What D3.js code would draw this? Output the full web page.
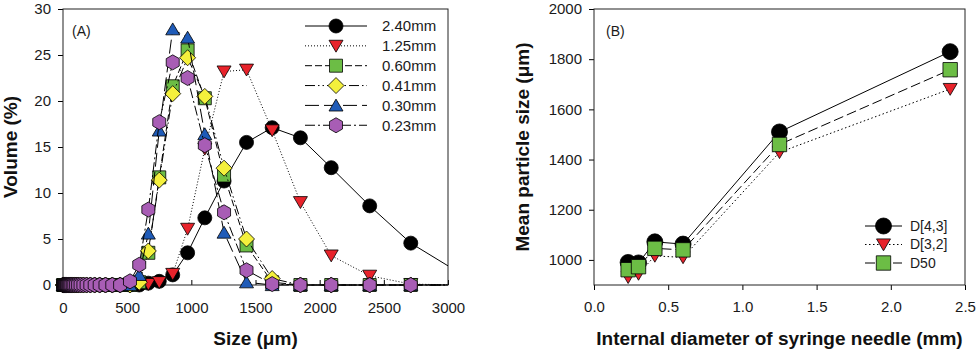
<!DOCTYPE html>
<html>
<head>
<meta charset="utf-8">
<script src="https://cdn.jsdelivr.net/npm/d3@7"></script>
<style>
  body { margin: 0; background: #fff; }
  svg, svg text { font-family: "Liberation Sans", Arial, sans-serif; }
  .tick text { fill: #1a1a1a; }
</style>
</head>
<body>
<div id="chart"></div>
<script>
// ---- data, panel A: particle size distribution ----
const sizes = [2, 4, 6, 8, 10, 12, 15, 18, 21, 25, 30, 35, 41, 48, 56, 65, 76, 88, 102, 118,
  137, 159, 184, 213, 247, 286, 331, 384, 445,
  522, 594, 665, 750, 855, 971, 1105, 1255, 1430, 1630, 1850, 2090, 2390, 2710, 3080];

const vol240 = [0,0,0,0,0,0,0,0,0,0, 0,0,0,0,0,0,0,0,0,0, 0,0,0,0,0,0,0,0,0,
  0, 0, 0.2, 0.4, 1.1, 3.5, 7.3, 11.3, 15.5, 17.1, 16.0, 12.75, 8.6, 4.55, 1.4];
const vol125 = [0,0,0,0,0,0,0,0,0,0, 0,0,0,0,0,0,0,0,0,0, 0,0,0,0,0,0,0,0,0,
  0, 0, 0.1, 0.3, 1.2, 6.1, 14.8, 23.2, 23.4, 16.8, 9.0, 3.2, 1.0, 0.1, 0];
const vol060 = [0,0,0,0,0,0,0,0,0,0, 0,0,0,0,0,0,0,0,0,0, 0,0,0,0,0,0,0,0,0,
  0, 0.3, 3.5, 11.7, 21.6, 25.5, 20.3, 11.9, 4.3, 0.3, 0, 0, 0, 0, 0];
const vol041 = [0,0,0,0,0,0,0,0,0,0, 0,0,0,0,0,0,0,0,0,0, 0,0,0,0,0,0,0,0,0,
  0, 0.3, 3.7, 11.4, 20.8, 24.7, 20.5, 12.7, 5.0, 0.7, 0, 0, 0, 0, 0];
const vol030 = [0,0,0,0,0,0,0,0,0,0, 0,0,0,0,0,0,0,0,0,0, 0,0,0,0,0,0,0,0,0,
  0, 1.1, 5.6, 16.8, 27.8, 26.9, 16.4, 5.7, 0.3, 0, 0, 0, 0, 0, 0];
const vol023 = [0,0,0,0,0,0,0,0,0,0, 0,0,0,0,0,0,0,0,0,0, 0,0,0,0,0,0,0,0,0,
  0.4, 2.2, 8.2, 17.7, 24.2, 22.5, 15.2, 7.9, 1.6, 0.1, 0, 0, 0, 0, 0];

const needleLabels = ["2.40mm", "1.25mm", "0.60mm", "0.41mm", "0.30mm", "0.23mm"];
const sizeTicks = [0, 500, 1000, 1500, 2000, 2500, 3000];
const volTicks = [0, 5, 10, 15, 20, 25, 30];

// ---- data, panel B: mean particle size vs needle diameter ----
const needle = [0.23, 0.30, 0.41, 0.60, 1.25, 2.40];
const d43 = [990, 988, 1072, 1063, 1510, 1830];
const d32 = [931, 944, 1016, 1010, 1429, 1681];
const d50 = [961, 973, 1046, 1040, 1460, 1758];
const meanLabels = ["D[4,3]", "D[3,2]", "D50"];
const diamTicks = [0, 0.5, 1.0, 1.5, 2.0, 2.5];
const meanTicks = [1000, 1200, 1400, 1600, 1800, 2000];

// marker shapes
function markerPath(type, r) {
  if (type === "circle") return `M${r},0A${r},${r} 0 1,1 ${-r},0A${r},${r} 0 1,1 ${r},0Z`;
  if (type === "triDown") return `M${-r},${-r * 0.8}L${r},${-r * 0.8}L0,${r * 0.9}Z`;
  if (type === "triUp") return `M${-r},${r * 0.8}L${r},${r * 0.8}L0,${-r * 0.9}Z`;
  if (type === "square") return `M${-r},${-r}H${r}V${r}H${-r}Z`;
  if (type === "diamond") return `M0,${-r}L${r},0L0,${r}L${-r},0Z`;
  if (type === "hexagon") {
    const pts = d3.range(6).map(k => {
      const a = (k * 60 - 90) * Math.PI / 180;
      return [r * Math.cos(a), r * Math.sin(a)];
    });
    return "M" + pts.map(p => p.join(",")).join("L") + "Z";
  }
}

const seriesA = [
  { label: needleLabels[0], values: vol240, shape: "circle", r: 7, fill: "#000", dash: null },
  { label: needleLabels[1], values: vol125, shape: "triDown", r: 7, fill: "#e8232b", dash: "1,2" },
  { label: needleLabels[2], values: vol060, shape: "square", r: 6.5, fill: "#6cbd45", dash: "7,3" },
  { label: needleLabels[3], values: vol041, shape: "diamond", r: 8, fill: "#f4f03c", dash: "10,3,1.5,3,1.5,3" },
  { label: needleLabels[4], values: vol030, shape: "triUp", r: 7, fill: "#1f5bb8", dash: "14,5" },
  { label: needleLabels[5], values: vol023, shape: "hexagon", r: 7.5, fill: "#a85db5", dash: "10,3,2,3" }
];

const seriesB = [
  { label: meanLabels[0], values: d43, shape: "circle", r: 8, fill: "#000", dash: null },
  { label: meanLabels[1], values: d32, shape: "triDown", r: 7, fill: "#e8232b", dash: "1.5,2.5" },
  { label: meanLabels[2], values: d50, shape: "square", r: 7.2, fill: "#6cbd45", dash: "10,4" }
];

const svg = d3.select("#chart")
  .append("svg")
  .attr("width", 979)
  .attr("height", 353);

function drawPanel(opt) {
  const g = svg.append("g").attr("transform", `translate(${opt.left},${opt.top})`);
  const w = opt.width, h = opt.height;

  const x = d3.scaleLinear().domain(opt.xDomain).range([0, w]);
  const y = d3.scaleLinear().domain(opt.yDomain).range([h, 0]);

  // x axis
  const xAxis = g.append("g")
    .attr("transform", `translate(0,${h})`)
    .call(d3.axisBottom(x).tickValues(opt.xTicks).tickFormat(opt.xFormat)
      .tickSizeInner(opt.xTickInside ? -5 : 5).tickSizeOuter(0).tickPadding(opt.xPad));
  xAxis.select(".domain").remove();
  xAxis.attr("font-family", null);
  xAxis.selectAll("text").style("font-size", "15px");

  // y axis
  const yAxis = g.append("g")
    .call(d3.axisLeft(y).tickValues(opt.yTicks).tickFormat(d3.format("d"))
      .tickSizeInner(5).tickSizeOuter(0).tickPadding(7));
  yAxis.select(".domain").remove();
  yAxis.attr("font-family", null);
  yAxis.selectAll("text").style("font-size", "15px");

  // frame
  g.append("rect")
    .attr("width", w).attr("height", h)
    .attr("fill", "none").attr("stroke", "#222").attr("stroke-width", 1);

  const clipId = "clip-" + opt.id;
  g.append("clipPath").attr("id", clipId)
    .append("rect").attr("x", -20).attr("y", -20).attr("width", w + 20).attr("height", h + 40);

  const plot = g.append("g").attr("clip-path", `url(#${clipId})`);

  const line = d3.line()
    .x((d, i) => x(opt.xValues[i]))
    .y(d => y(d));

  opt.series.forEach(s => {
    plot.append("path")
      .datum(s.values)
      .attr("d", line)
      .attr("fill", "none")
      .attr("stroke", "#000")
      .attr("stroke-width", 1)
      .attr("stroke-dasharray", s.dash);

    plot.selectAll(null)
      .data(s.values)
      .join("path")
      .attr("transform", (d, i) => `translate(${x(opt.xValues[i])},${y(d)})`)
      .attr("d", markerPath(s.shape, s.r))
      .attr("fill", s.fill)
      .attr("stroke", "#000")
      .attr("stroke-width", 0.8);
  });

  // panel label
  g.append("text")
    .attr("x", opt.tagX).attr("y", 27)
    .style("font-size", "14px")
    .attr("fill", "#1a1a1a")
    .text(opt.tag);

  // legend
  const lg = g.append("g").attr("transform", `translate(${opt.legend.x},${opt.legend.y})`);
  opt.series.forEach((s, i) => {
    const row = lg.append("g").attr("transform", `translate(0,${i * opt.legend.step})`);
    row.append("line")
      .attr("x1", 0).attr("x2", opt.legend.len)
      .attr("stroke", "#000").attr("stroke-width", 1)
      .attr("stroke-dasharray", s.dash);
    row.append("path")
      .attr("transform", `translate(${opt.legend.len / 2},0)`)
      .attr("d", markerPath(s.shape, s.r))
      .attr("fill", s.fill).attr("stroke", "#000").attr("stroke-width", 0.8);
    row.append("text")
      .attr("x", opt.legend.textX).attr("dy", "0.35em")
      .style("font-size", opt.legend.font)
      .attr("fill", "#1a1a1a")
      .text(s.label);
  });

  // axis titles
  g.append("text")
    .attr("x", w / 2).attr("y", opt.xTitleY)
    .attr("text-anchor", "middle")
    .style("font-size", "19px").style("font-weight", "bold")
    .attr("fill", "#111")
    .text(opt.xTitle);

  g.append("text")
    .attr("transform", `translate(${opt.yTitleX},${h / 2}) rotate(-90)`)
    .attr("text-anchor", "middle")
    .style("font-size", "19px").style("font-weight", "bold")
    .attr("fill", "#111")
    .text(opt.yTitle);
}

drawPanel({
  id: "a", left: 63, top: 9, width: 385, height: 276,
  xDomain: [0, 3000], yDomain: [0, 30],
  xTicks: sizeTicks, yTicks: volTicks, xFormat: d3.format("d"),
  xTickInside: true, xPad: 17,
  xValues: sizes, series: seriesA,
  tag: "(A)", tagX: 9,
  legend: { x: 242, y: 17, step: 19.85, len: 62, textX: 77, font: "15px" },
  xTitle: "Size (\u03bcm)", xTitleY: 336,
  yTitle: "Volume (%)", yTitleX: -46
});

drawPanel({
  id: "b", left: 594, top: 9, width: 371, height: 276,
  xDomain: [0, 2.5], yDomain: [900, 2000],
  xTicks: diamTicks, yTicks: meanTicks, xFormat: d3.format(".1f"),
  xTickInside: false, xPad: 11,
  xValues: needle, series: seriesB,
  tag: "(B)", tagX: 12,
  legend: { x: 271, y: 217, step: 18.5, len: 37, textX: 45, font: "14px" },
  xTitle: "Internal diameter of syringe needle (mm)", xTitleY: 336,
  yTitle: "Mean particle size (\u03bcm)", yTitleX: -65
});
</script>
</body>
</html>
